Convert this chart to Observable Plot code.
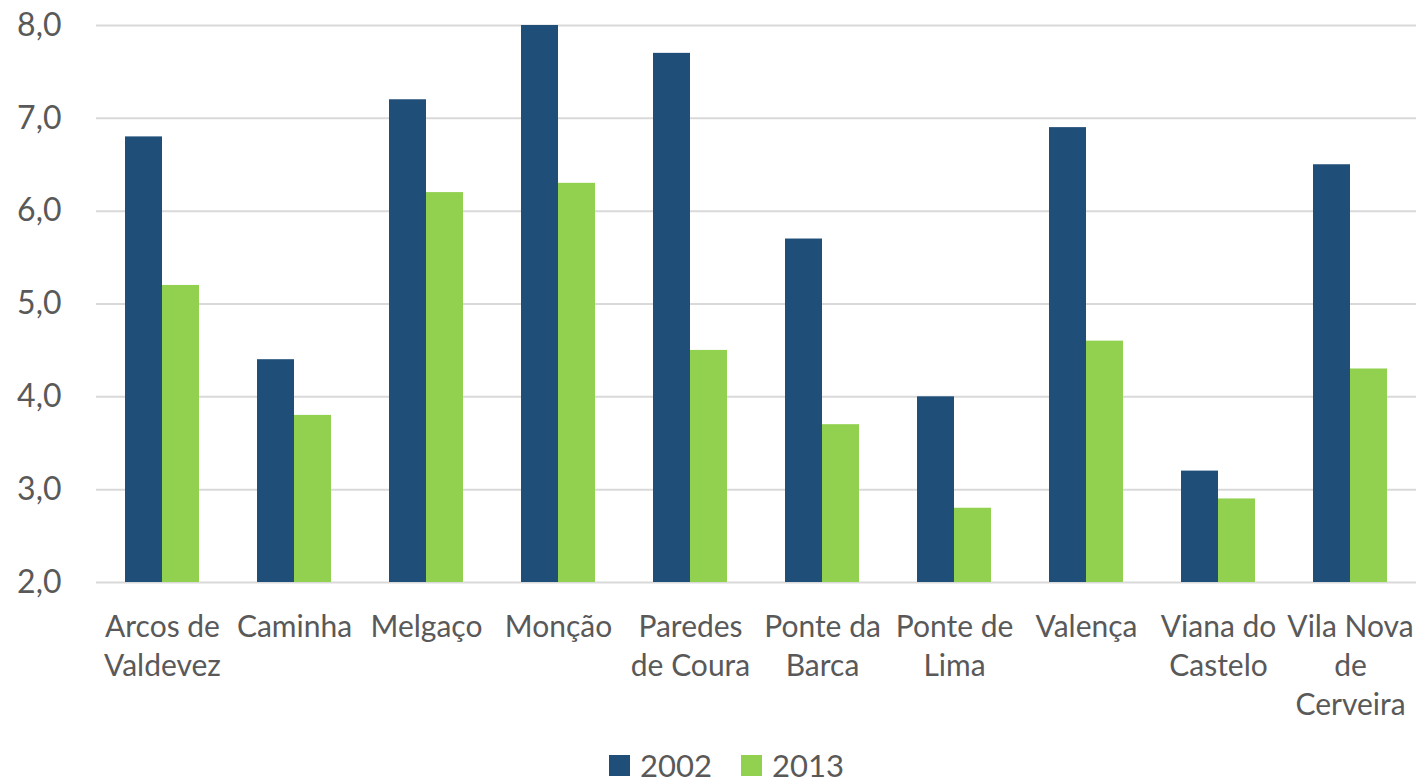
<!DOCTYPE html>
<html>
<head>
<meta charset="utf-8">
<script src="https://cdn.jsdelivr.net/npm/d3@7"></script>
<script src="https://cdn.jsdelivr.net/npm/@observablehq/plot@0.6"></script>
<style>
  html, body { margin: 0; background: #fff; font-family: Lato, sans-serif; overflow: hidden; }
  #chart svg { display: block; }
  #legend { display: flex; justify-content: center; align-items: center; height: 30px; margin-top: 20px; padding-left: 37px; font-size: 31px; line-height: 30px; color: #595959; }
  #legend .item { display: flex; align-items: center; margin: 0 14.5px; }
  #legend .sw { width: 21px; height: 21px; margin-right: 10px; }
</style>
</head>
<body>
<div id="chart"></div>
<div id="legend"></div>
<script>
const categories = ["Arcos de Valdevez", "Caminha", "Melgaço", "Monção", "Paredes de Coura", "Ponte da Barca", "Ponte de Lima", "Valença", "Viana do Castelo", "Vila Nova de Cerveira"];
const categoryLabels = ["Arcos de\nValdevez", "Caminha", "Melgaço", "Monção", "Paredes\nde Coura", "Ponte da\nBarca", "Ponte de\nLima", "Valença", "Viana do\nCastelo", "Vila Nova\nde\nCerveira"];
const series = ["2002", "2013"];
const values2002 = [6.8, 4.4, 7.2, 8.0, 7.7, 5.7, 4.0, 6.9, 3.2, 6.5];
const values2013 = [5.2, 3.8, 6.2, 6.3, 4.5, 3.7, 2.8, 4.6, 2.9, 4.3];
const yTicks = [2, 3, 4, 5, 6, 7, 8];
const colors = ["#1F4E79", "#92D050"];

const data = [];
categories.forEach((c, i) => {
  data.push({category: c, series: series[0], value: values2002[i]});
  data.push({category: c, series: series[1], value: values2013[i]});
});
const labelOf = new Map(categories.map((c, i) => [c, categoryLabels[i]]));
const yMin = yTicks[0], yMax = yTicks[yTicks.length - 1];

const chart = Plot.plot({
  width: 1416,
  height: 730,
  marginLeft: 95,
  marginRight: 0,
  marginTop: 25,
  marginBottom: 148,
  style: {fontFamily: "Lato, sans-serif", fontSize: "30px", color: "#595959", background: "#fff"},
  fx: {domain: categories, padding: 0, axis: null, label: null},
  x: {domain: series, paddingInner: 0, paddingOuter: 0.737, axis: null},
  y: {domain: [yMin, yMax], axis: null},
  color: {domain: series, range: colors},
  marks: [
    Plot.ruleY(yTicks, {stroke: "#D9D9D9", strokeWidth: 2}),
    Plot.barY(data, {fx: "category", x: "series", y1: () => yMin, y2: "value", fill: "series", inset: 0}),
    Plot.axisY({ticks: yTicks, tickFormat: d => d.toFixed(1).replace(".", ","), tickSize: 0, tickPadding: 35, label: null, fill: "#595959", fontSize: 32}),
    Plot.axisFx({anchor: "bottom", tickSize: 0, tickPadding: 27, label: null, tickFormat: d => labelOf.get(d), lineHeight: 1.3, fill: "#595959", fontSize: 30})
  ]
});
document.getElementById("chart").appendChild(chart);

const legend = document.getElementById("legend");
series.forEach((s, i) => {
  const item = document.createElement("div");
  item.className = "item";
  const sw = document.createElement("span");
  sw.className = "sw";
  sw.style.background = colors[i];
  const t = document.createElement("span");
  t.textContent = s;
  item.appendChild(sw);
  item.appendChild(t);
  legend.appendChild(item);
});
</script>
</body>
</html>
